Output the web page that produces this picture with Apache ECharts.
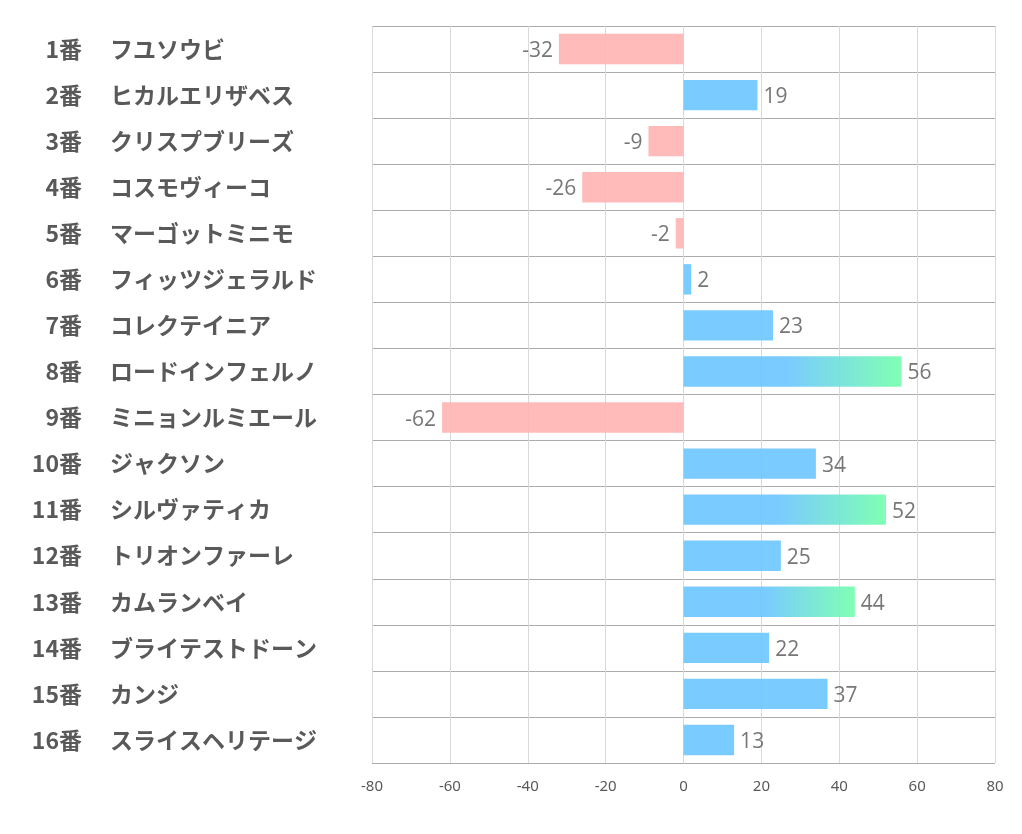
<!DOCTYPE html>
<html><head><meta charset="utf-8">
<script src="https://cdn.jsdelivr.net/npm/echarts@6/dist/echarts.min.js"></script>
<style>html,body{margin:0;padding:0;background:#fff}#c{width:1022px;height:834px}</style>
</head><body><div id="c"></div>
<script>
const numbers = ['1番','2番','3番','4番','5番','6番','7番','8番','9番','10番','11番','12番','13番','14番','15番','16番'];
const names = ['フユソウビ','ヒカルエリザベス','クリスプブリーズ','コスモヴィーコ','マーゴットミニモ','フィッツジェラルド','コレクテイニア','ロードインフェルノ','ミニョンルミエール','ジャクソン','シルヴァティカ','トリオンファーレ','カムランベイ','ブライテストドーン','カンジ','スライスヘリテージ'];
const values = [-32, 19, -9, -26, -2, 2, 23, 56, -62, 34, 52, 25, 44, 22, 37, 13];
const xTicks = [-80, -60, -40, -20, 0, 20, 40, 60, 80];

const BLUE = 'rgba(107,197,255,0.9)';
const PINK = 'rgba(255,179,179,0.9)';
const GREEN = 'rgba(114,255,172,0.9)';

const data = values.map(v => {
  let color;
  if (v < 0) color = PINK;
  else if (v > 40) color = new echarts.graphic.LinearGradient(0, 0, 1, 0, [
    {offset: 0, color: BLUE}, {offset: 0.47, color: BLUE}, {offset: 1, color: GREEN}]);
  else color = BLUE;
  return {value: v, itemStyle: {color}, label: {position: v < 0 ? 'left' : 'right'}};
});

const labelFont = {fontSize: 23, fontWeight: 'bold', color: '#595959', fontFamily: 'Noto Sans CJK JP'};

const chart = echarts.init(document.getElementById('c'));
chart.setOption({
  animation: false,
  grid: {left: 372, right: 27, top: 26, bottom: 71, containLabel: false},
  xAxis: {
    type: 'value', min: xTicks[0], max: xTicks[xTicks.length - 1], interval: 20,
    axisLine: {show: false}, axisTick: {show: false},
    splitLine: {show: true, lineStyle: {color: '#d9d9d9', width: 1}},
    axisLabel: {color: '#595959', fontSize: 15, fontFamily: 'Noto Sans', margin: 16}
  },
  yAxis: [{
    type: 'category', data: numbers, inverse: true,
    axisLine: {show: false}, axisTick: {show: false},
    splitLine: {show: true, lineStyle: {color: '#ababab', width: 1}},
    axisLabel: Object.assign({margin: 290, align: 'right'}, labelFont)
  }, {
    type: 'category', data: names, inverse: true, position: 'left',
    axisLine: {show: false}, axisTick: {show: false}, splitLine: {show: false},
    axisLabel: Object.assign({margin: 262, align: 'left'}, labelFont)
  }],
  series: [{
    type: 'bar', data: data, barWidth: '66%', yAxisIndex: 0,
    label: {show: true, color: '#777777', fontSize: 21, fontFamily: 'Open Sans', distance: 6, offset: [0, 2]}
  }]
});
</script></body></html>
